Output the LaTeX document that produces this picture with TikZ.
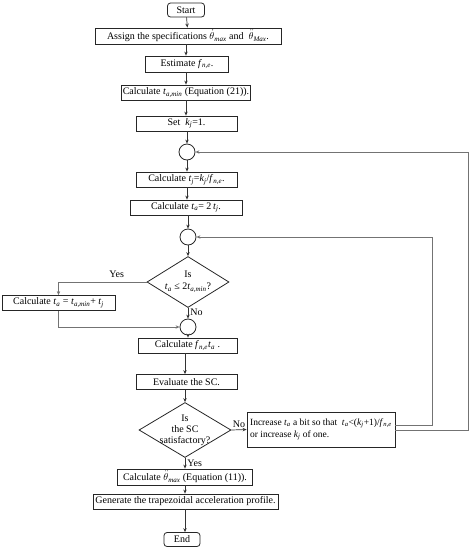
\documentclass[tikz,border=0pt]{standalone}
\usepackage{fontspec}
\setmainfont{Liberation Serif}
\usetikzlibrary{arrows.meta,shapes.geometric}
\newcommand\vv[2]{\textit{#1}\textsubscript{\textit{#2}}}
\newcommand\tdot{$\dot{\theta}$}
\newcommand\tddot{$\ddot{\theta}$}
\tikzset{
  box/.style={draw=black!85,line width=0.8pt,minimum height=15pt,inner sep=1.5pt,font=\fontsize{10}{11}\selectfont,fill=white},
  term/.style={box,rounded corners=3pt},
  conn/.style={draw=black!85,line width=0.8pt,minimum size=16pt,inner sep=0pt,circle},
  dia/.style={draw=black!85,line width=0.8pt,diamond,inner sep=0pt},
  txt/.style={font=\fontsize{10}{11}\selectfont,align=center,inner sep=0pt},
  arr/.style={draw=black!80,line width=0.7pt,-{Stealth[length=4pt,width=3.4pt]}},
  back/.style={draw=black!55,line width=0.8pt,-{Stealth[length=4pt,width=3.4pt]}},
}
\begin{document}
\begin{tikzpicture}[x=1pt,y=-1pt]
\useasboundingbox (0,0) rectangle (472,550);
\node[term,minimum width=37pt,minimum height=14pt] (start) at (186,10) {Start};
\node[box,minimum width=186pt,minimum height=16pt] (assign) at (188,36) {Assign the specifications \tdot\textsubscript{\textit{max}} and\ \ \tddot\textsubscript{\textit{Max}}.};
\node[box,minimum width=83pt,minimum height=16pt] (est) at (187,64) {Estimate \vv{f}{n,e}.};
\node[box,minimum width=126pt] (calcmin) at (186,92.5) {Calculate \vv{t}{a,min} (Equation (21)).};
\node[box,minimum width=101pt] (setk) at (186.5,123.5) {Set\ \ \vv{k}{j}=1.};
\node[conn] (c1) at (187,152) {};
\node[box,minimum width=101pt] (calctj) at (186.5,179.5) {Calculate \vv{t}{j}=\vv{k}{j}/\vv{f}{n,e}.};
\node[box,minimum width=112pt] (calcta) at (186,207.5) {Calculate \vv{t}{a}= 2\,\vv{t}{j}.};
\node[conn] (c2) at (188,237) {};
\node[dia,minimum width=82pt,minimum height=51pt] (d1) at (188,282) {};
\node[txt] at (d1.center) {Is\\[1pt]\vv{t}{a} ≤ 2\vv{t}{a,min}?};
\node[box,minimum width=113pt] (left) at (58.5,303) {Calculate \vv{t}{a} = \vv{t}{a,min}+ \vv{t}{j}};
\node[conn] (c3) at (188,327) {};
\node[box,minimum width=99pt] (calcf) at (187.5,345.5) {Calculate \vv{f}{n,e}\vv{t}{a} .};
\node[box,minimum width=101pt] (eval) at (186.5,382) {Evaluate the SC.};
\node[dia,minimum width=92pt,minimum height=55pt] (d2) at (185,430) {};
\node[txt] at (d2.center) {Is\\the SC\\satisfactory?};
\node[box,minimum width=148pt,minimum height=35pt,align=left,font=\fontsize{9.5}{12}\selectfont] (inc) at (321,429.5) {Increase \vv{t}{a} a bit so that\ \ \vv{t}{a}<(\vv{k}{j}+1)/\vv{f}{n,e}\\or increase \vv{k}{j} of one.};
\node[box,minimum width=135pt,minimum height=16pt] (calcth) at (185,477) {Calculate \tddot\textsubscript{\textit{max}} (Equation (11)).};
\node[box,minimum width=185pt] (gen) at (185.5,501.5) {Generate the trapezoidal acceleration profile.};
\node[term,minimum width=36pt,minimum height=14pt] (end) at (182,539.5) {End};
% main flow
\draw[arr] (start) -- (assign);
\draw[arr] (assign.south -| start) -- (est.north -| start);
\draw[arr] (est.south -| start) -- (calcmin.north -| start);
\draw[arr] (calcmin.south -| start) -- (setk.north -| start);
\draw[arr] (setk.south -| c1) -- (c1);
\draw[arr] (c1) -- (calctj.north -| c1);
\draw[arr] (calctj.south -| c1) -- (calcta.north -| c1);
\draw[arr] (calcta.south -| c2) -- (c2);
\draw[arr] (c2) -- (d1);
\draw[arr] (d1.south) -- node[pos=0.4,right,txt,xshift=2pt] {No} (c3);
\draw[arr] (c3) -- (calcf.north -| c3);
\draw[arr] (calcf.south -| d2) -- (eval.north -| d2);
\draw[arr] (eval.south -| d2) -- (d2.north);
\draw[arr] (d2.east) -- node[above,txt,yshift=2pt] {No} (inc.west);
\draw[arr] (d2.south) -- node[pos=0.5,right,txt,xshift=2pt] {Yes} (calcth.north -| d2);
\draw[arr] (calcth.south -| d2) -- (gen.north -| d2);
\draw[arr] (gen.south -| d2) -- (end.north -| d2);
% yes branch
\draw[back] (d1.west) -| node[pos=0.17,above,txt,text=black,yshift=4pt] {Yes} (left.north);
\draw[back] (left.south) |- (c3.west);
% loops
\draw[back] ([yshift=4pt]inc.east) -- ++(37,0) |- (c2.east);
\draw[back] ([yshift=-1pt]inc.east) -- ++(73,0) |- (c1.east);
\end{tikzpicture}
\end{document}
